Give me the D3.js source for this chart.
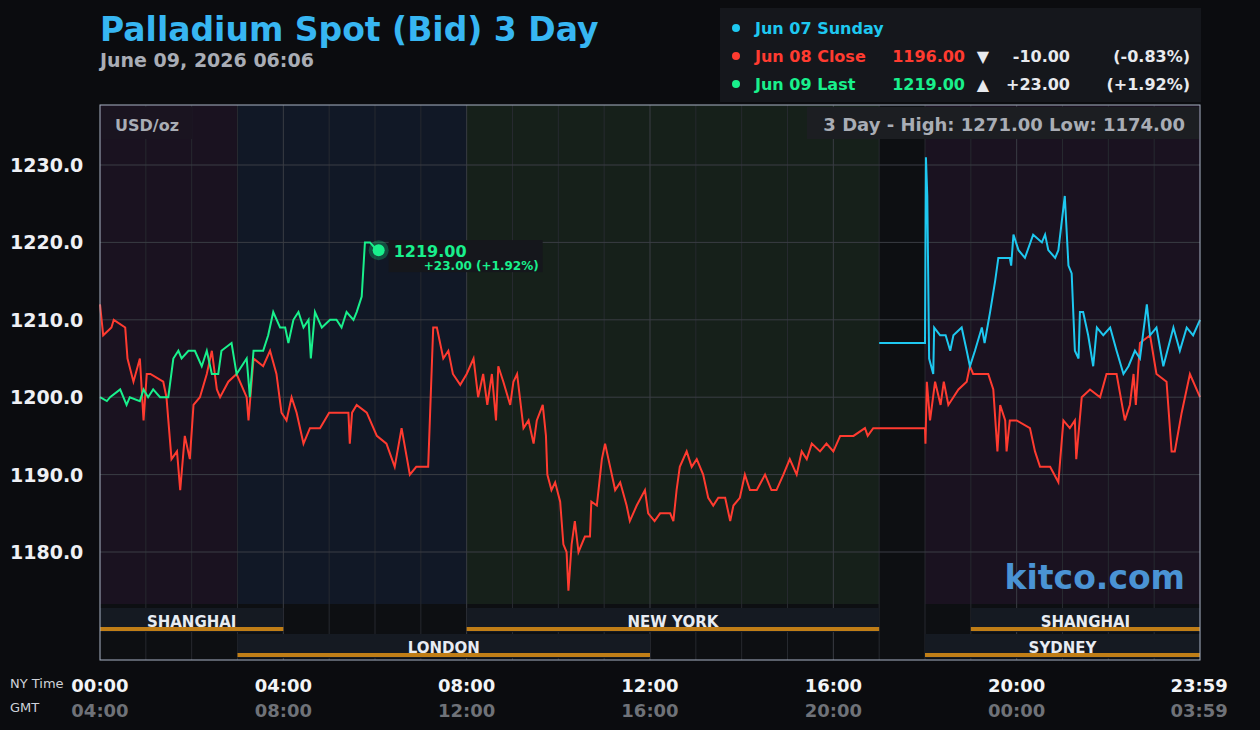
<!DOCTYPE html>
<html><head><meta charset="utf-8">
<script src="https://cdn.jsdelivr.net/npm/d3@7"></script>
<style>body{margin:0;background:#0b0c0f;}svg{display:block;font-family:"DejaVu Sans",sans-serif;}</style>
</head><body><div id="chart"></div>
<script>
// values: [hour NY time, price]
const jun08 = [[0,1212],[0.07,1208],[0.25,1209],[0.3,1210],[0.55,1209],[0.6,1205],[0.73,1202],[0.87,1205],[0.95,1197],[1.02,1203],[1.1,1203],[1.38,1202],[1.45,1200],[1.56,1192],[1.68,1193],[1.75,1188],[1.85,1195],[1.96,1192],[2.04,1199],[2.18,1200],[2.33,1203],[2.44,1206],[2.55,1201],[2.62,1200],[2.8,1202],[2.98,1203],[3.2,1200],[3.24,1197],[3.35,1205],[3.56,1204],[3.71,1206],[3.85,1203],[3.96,1198],[4.07,1197],[4.18,1200],[4.29,1198],[4.44,1194],[4.58,1196],[4.8,1196],[5.0,1198],[5.24,1198],[5.42,1198],[5.45,1194],[5.5,1198],[5.6,1199],[5.82,1198],[6.04,1195],[6.25,1194],[6.43,1191],[6.58,1196],[6.76,1190],[6.9,1191],[7.16,1191],[7.27,1209],[7.35,1209],[7.49,1205],[7.6,1206],[7.7,1203],[7.86,1201.6],[8.0,1203],[8.15,1205],[8.25,1200],[8.36,1203],[8.45,1199],[8.55,1203],[8.64,1197],[8.69,1204],[8.8,1202],[8.95,1199],[9.02,1202],[9.1,1203],[9.16,1200],[9.24,1196],[9.35,1197],[9.46,1194],[9.53,1197],[9.66,1199],[9.73,1195],[9.76,1190],[9.85,1188],[9.93,1189],[10.04,1186.5],[10.11,1181],[10.18,1180],[10.22,1175],[10.29,1181],[10.36,1184],[10.44,1180],[10.58,1182],[10.69,1182],[10.72,1186.5],[10.84,1186],[10.95,1192],[11.02,1194],[11.13,1191],[11.24,1188],[11.35,1189],[11.49,1186],[11.56,1184],[11.71,1186],[11.89,1188],[11.96,1185],[12.1,1184],[12.22,1185],[12.44,1185],[12.51,1184],[12.58,1188],[12.65,1191],[12.8,1193],[12.91,1191],[13.02,1192],[13.16,1190],[13.27,1187],[13.38,1186],[13.49,1187],[13.64,1187],[13.75,1184],[13.82,1186],[13.96,1187],[14.07,1190],[14.18,1188],[14.33,1188],[14.51,1190],[14.65,1188],[14.76,1188],[14.91,1190],[15.05,1192],[15.2,1190],[15.31,1193],[15.42,1192],[15.53,1194],[15.71,1193],[15.85,1194],[16.0,1193],[16.15,1195],[16.44,1195],[16.69,1196],[16.75,1195],[16.87,1196],[18.0,1196],[18.01,1194],[18.04,1202],[18.11,1197],[18.22,1202],[18.34,1199],[18.41,1202],[18.51,1199],[18.73,1201],[18.91,1202],[18.98,1204],[19.05,1203],[19.38,1203],[19.49,1201],[19.58,1193],[19.64,1199],[19.75,1197],[19.78,1193],[19.85,1197],[20.0,1197],[20.29,1196],[20.4,1193],[20.51,1191],[20.73,1191],[20.91,1189],[21.02,1197],[21.16,1196],[21.27,1197],[21.3,1192],[21.42,1200],[21.6,1201],[21.82,1200],[21.96,1203],[22.18,1203],[22.36,1197],[22.47,1199],[22.55,1203],[22.6,1199],[22.69,1207],[22.91,1208],[23.05,1203],[23.27,1202],[23.38,1193],[23.45,1193],[23.6,1198],[23.78,1203],[24.0,1200]];
const jun09 = [[0,1200],[0.15,1199.5],[0.22,1200],[0.44,1201],[0.58,1199],[0.65,1200],[0.87,1199.5],[0.95,1201],[1.05,1200],[1.16,1201],[1.31,1200],[1.49,1200],[1.6,1205],[1.71,1206],[1.78,1205],[1.93,1206],[2.07,1206],[2.22,1204],[2.33,1206],[2.44,1203],[2.58,1203],[2.65,1206],[2.87,1207],[2.98,1203],[3.2,1205],[3.27,1200],[3.35,1206],[3.56,1206],[3.67,1208],[3.78,1211],[3.93,1209],[4.04,1209],[4.11,1207],[4.22,1210],[4.33,1211],[4.44,1209],[4.55,1210],[4.6,1205],[4.69,1211],[4.84,1209],[5.02,1210],[5.16,1210],[5.27,1209],[5.38,1211],[5.53,1210],[5.6,1211],[5.71,1213],[5.78,1220],[5.89,1220],[6.04,1219],[6.08,1219]];
const jun07 = [[17.0,1207],[18.0,1207],[18.02,1231],[18.05,1226],[18.09,1205],[18.18,1203],[18.2,1209],[18.33,1208],[18.45,1208],[18.55,1206],[18.62,1208],[18.8,1209],[18.91,1206],[18.98,1204],[19.09,1206],[19.24,1209],[19.3,1207],[19.42,1211],[19.53,1215],[19.6,1218],[19.85,1218],[19.88,1217],[19.93,1221],[20.04,1219],[20.18,1218],[20.36,1221],[20.55,1220],[20.62,1221],[20.69,1219],[20.84,1218],[20.91,1219],[21.05,1226],[21.13,1217],[21.2,1216],[21.27,1206],[21.35,1205],[21.38,1211],[21.45,1211],[21.56,1208],[21.67,1204],[21.75,1209],[21.89,1208],[22.04,1209],[22.18,1206],[22.33,1203],[22.44,1204],[22.58,1206],[22.69,1205],[22.84,1212],[22.91,1208],[23.05,1209],[23.2,1204],[23.42,1209],[23.56,1206],[23.71,1209],[23.85,1208],[24.0,1210]];
const priceTicks = [1180, 1190, 1200, 1210, 1220, 1230];
const timeTicks = [0, 4, 8, 12, 16, 20, 23.983];
const nyLabels = ["00:00","04:00","08:00","12:00","16:00","20:00","23:59"];
const gmtLabels = ["04:00","08:00","12:00","16:00","20:00","00:00","03:59"];
const zones = [[0,3,"#1a1220"],[3,8,"#111826"],[8,17,"#16201a"],[17,18,"#0d0f12"],[18,24,"#1a1220"]];
const sessionsTop = [["SHANGHAI",0,4],["NEW YORK",8,17],["SHANGHAI",19,24]];
const sessionsBottom = [["LONDON",3,12],["SYDNEY",18,24]];
const legendRows = [
  {label:"Jun 07 Sunday", price:"", arrow:"", chg:"", pct:"", color:"#1ec8f0"},
  {label:"Jun 08 Close", price:"1196.00", arrow:"▼", chg:"-10.00", pct:"(-0.83%)", color:"#ff3b30"},
  {label:"Jun 09 Last", price:"1219.00", arrow:"▲", chg:"+23.00", pct:"(+1.92%)", color:"#19f08c"}
];

const W = 1260, H = 730;
const L = 100, R = 1200, T = 105, PB = 604, B = 660;
const svg = d3.select("#chart").append("svg").attr("width", W).attr("height", H);
svg.append("rect").attr("width", W).attr("height", H).attr("fill", "#0b0c0f");

const x = d3.scaleLinear().domain([0, 24]).range([L, R]);
const y = d3.scaleLinear().domain([1180, 1230]).range([552, 165]);

// zone backgrounds
zones.forEach(z => svg.append("rect").attr("x", x(z[0])).attr("y", T)
  .attr("width", x(z[1]) - x(z[0])).attr("height", PB - T).attr("fill", z[2]));
svg.append("rect").attr("x", L).attr("y", PB).attr("width", R - L).attr("height", B - PB).attr("fill", "#0d0f12");

// grid
d3.range(1, 24).forEach(h => svg.append("line").attr("x1", x(h)).attr("x2", x(h))
  .attr("y1", T).attr("y2", B).attr("stroke", h % 4 === 0 ? "#3a3d44" : "#26292f").attr("stroke-width", 1));
priceTicks.forEach(p => svg.append("line").attr("x1", L).attr("x2", R)
  .attr("y1", y(p)).attr("y2", y(p)).attr("stroke", "#3a3d44"));

// session bars
function sessions(list, top) {
  list.forEach(s => {
    svg.append("rect").attr("x", x(s[1])).attr("y", top).attr("width", x(s[2]) - x(s[1]))
      .attr("height", 24).attr("fill", "#151a22");
    svg.append("rect").attr("x", x(s[1])).attr("y", top + 19).attr("width", x(s[2]) - x(s[1]))
      .attr("height", 4).attr("fill", "#c07e17");
    svg.append("text").attr("x", (x(s[1]) + x(s[2])) / 2).attr("y", top + 19).attr("text-anchor", "middle")
      .attr("fill", "#e8ecf2").attr("font-size", 15).attr("font-weight", "bold").text(s[0]);
  });
}
sessions(sessionsTop, 608);
sessions(sessionsBottom, 634);

// lines
const line = d3.line().x(d => x(d[0])).y(d => y(d[1]));
[[jun08, "#ff3b30"], [jun07, "#1ec8f0"], [jun09, "#19f08c"]].forEach(s =>
  svg.append("path").datum(s[0]).attr("d", line).attr("fill", "none")
    .attr("stroke", s[1]).attr("stroke-width", 2).attr("stroke-linejoin", "miter"));

// border
svg.append("rect").attr("x", L).attr("y", T).attr("width", R - L).attr("height", B - T)
  .attr("fill", "none").attr("stroke", "#a9b3c6").attr("stroke-width", 1);

// price labels
priceTicks.forEach(p => svg.append("text").attr("x", 10).attr("y", y(p) + 7)
  .attr("fill", "#eef0f4").attr("font-size", 19).attr("font-weight", "bold").text(p.toFixed(1)));

// time labels
timeTicks.forEach((t, i) => {
  svg.append("text").attr("x", x(t)).attr("y", 692).attr("text-anchor", "middle")
    .attr("fill", "#f2f4f7").attr("font-size", 18).attr("font-weight", "bold").text(nyLabels[i]);
  svg.append("text").attr("x", x(t)).attr("y", 717).attr("text-anchor", "middle")
    .attr("fill", "#6f7278").attr("font-size", 18).attr("font-weight", "bold").text(gmtLabels[i]);
});
svg.append("text").attr("x", 10).attr("y", 688).attr("fill", "#cfd3da").attr("font-size", 13).text("NY Time");
svg.append("text").attr("x", 10).attr("y", 712).attr("fill", "#cfd3da").attr("font-size", 13).text("GMT");

// title
svg.append("text").attr("x", 100).attr("y", 41).attr("fill", "#37b6f2").attr("font-size", 33)
  .attr("font-weight", "bold").text("Palladium Spot (Bid) 3 Day");
svg.append("text").attr("x", 100).attr("y", 67).attr("fill", "#a9adb5").attr("font-size", 19)
  .attr("font-weight", "bold").text("June 09, 2026 06:06");

// legend
svg.append("rect").attr("x", 720).attr("y", 8).attr("width", 481).attr("height", 94).attr("fill", "#15171c");
legendRows.forEach((r, i) => {
  const yy = 34 + i * 28;
  svg.append("circle").attr("cx", 736).attr("cy", yy - 6).attr("r", 4).attr("fill", r.color);
  const g = svg.append("g").attr("font-size", 16).attr("font-weight", "bold");
  g.append("text").attr("x", 755).attr("y", yy).attr("fill", r.color).text(r.label);
  g.append("text").attr("x", 965).attr("y", yy).attr("text-anchor", "end").attr("fill", r.color).text(r.price);
  g.append("text").attr("x", 983).attr("y", yy).attr("text-anchor", "middle").attr("fill", "#e8eaee").text(r.arrow);
  g.append("text").attr("x", 1070).attr("y", yy).attr("text-anchor", "end").attr("fill", "#e8eaee").text(r.chg);
  g.append("text").attr("x", 1190).attr("y", yy).attr("text-anchor", "end").attr("fill", "#e8eaee").text(r.pct);
});

// in-chart labels
svg.append("rect").attr("x", 102).attr("y", 107).attr("width", 90).attr("height", 32).attr("fill", "#1a1420");
svg.append("text").attr("x", 115).attr("y", 131).attr("fill", "#a9adb5").attr("font-size", 16)
  .attr("font-weight", "bold").text("USD/oz");
svg.append("rect").attr("x", 807).attr("y", 107).attr("width", 392).attr("height", 32).attr("fill", "#1c1e22");
svg.append("text").attr("x", 1185).attr("y", 131).attr("text-anchor", "end").attr("fill", "#a9adb5")
  .attr("font-size", 18).attr("font-weight", "bold").text("3 Day - High: 1271.00  Low: 1174.00");
svg.append("text").attr("x", 1185).attr("y", 589).attr("text-anchor", "end").attr("fill", "#4a93d4")
  .attr("font-size", 33).attr("font-weight", "bold").text("kitco.com");

// last marker
const last = jun09[jun09.length - 1];
svg.append("rect").attr("x", x(last[0]) + 10).attr("y", y(last[1]) - 10).attr("width", 154).attr("height", 32).attr("fill", "#15171c");
svg.append("circle").attr("cx", x(last[0])).attr("cy", y(last[1])).attr("r", 10).attr("fill", "#19f08c").attr("opacity", 0.25);
svg.append("circle").attr("cx", x(last[0])).attr("cy", y(last[1])).attr("r", 6).attr("fill", "#19f08c");
svg.append("text").attr("x", x(last[0]) + 15).attr("y", y(last[1]) + 7).attr("fill", "#19f08c")
  .attr("font-size", 16).attr("font-weight", "bold").text(last[1].toFixed(2));
svg.append("text").attr("x", x(last[0]) + 160).attr("y", y(last[1]) + 20).attr("text-anchor", "end").attr("fill", "#19f08c")
  .attr("font-size", 12).attr("font-weight", "bold").text("+23.00 (+1.92%)");
</script></body></html>
